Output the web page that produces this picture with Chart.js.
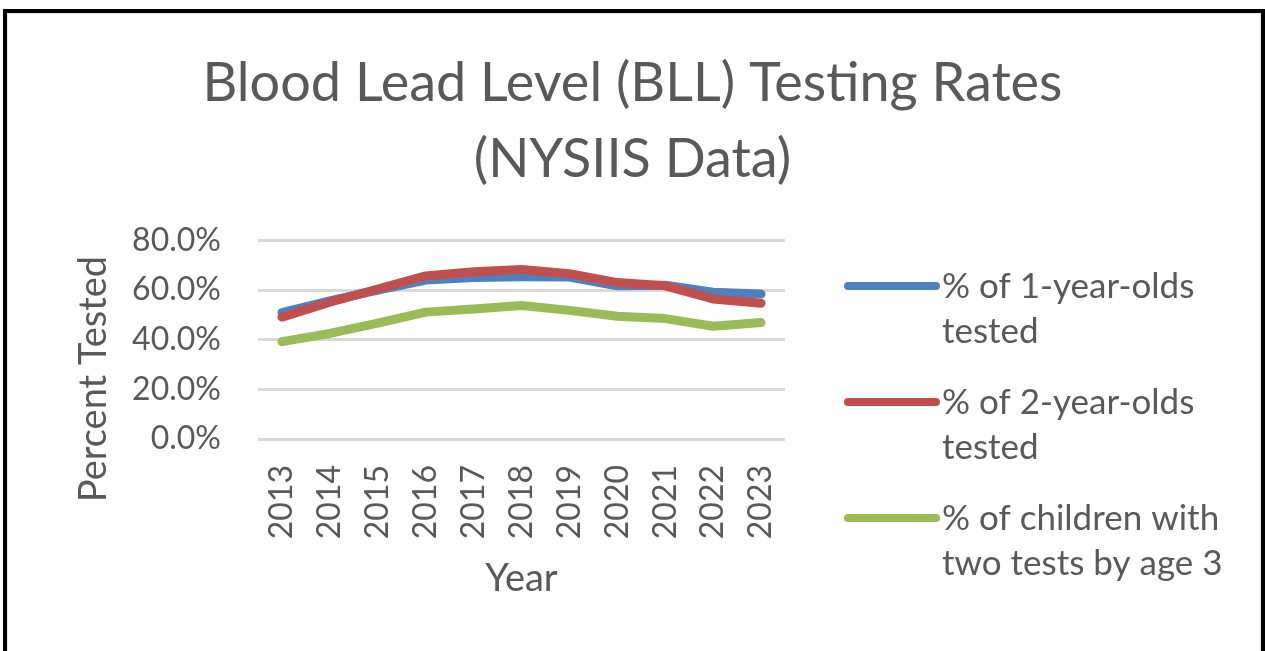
<!DOCTYPE html>
<html>
<head>
<meta charset="utf-8">
<script src="https://cdn.jsdelivr.net/npm/chart.js@4"></script>
<style>
  html, body { margin: 0; padding: 0; background: #fff; overflow: hidden; }
  #wrap { position: relative; width: 1265px; height: 651px; }
  #frame {
    position: absolute; left: 3px; top: 9px; width: 1262px; height: 700px;
    box-sizing: border-box; border: 4px solid #000; border-bottom: none;
    box-shadow: inset 1px 1px 0 #e4e4e4, inset -1px 0 0 #e4e4e4;
    pointer-events: none;
  }
  canvas { position: absolute; left: 0; top: 0; }
</style>
</head>
<body>
<div id="wrap">
  <canvas id="lead" width="1265" height="651"></canvas>
  <div id="frame"></div>
</div>
<script>
// data (percent)
var years = ['2013','2014','2015','2016','2017','2018','2019','2020','2021','2022','2023'];
var oneYear = [50.9, 55.6, 60.0, 64.0, 65.0, 65.3, 65.2, 61.7, 61.9, 59.1, 58.4];
var twoYear = [49.1, 55.1, 60.4, 65.7, 67.4, 68.3, 66.6, 63.0, 61.7, 56.4, 54.7];
var twoTests = [39.2, 42.5, 46.7, 51.1, 52.4, 53.8, 51.8, 49.4, 48.5, 45.4, 46.9];
var legendLines = [
  ['% of 1-year-olds', 'tested'],
  ['% of 2-year-olds', 'tested'],
  ['% of children with', 'two tests by age 3']
];
var yTicks = [0, 20, 40, 60, 80];

var grey = '#595959';
var fontName = 'Lato';

// legend + y title drawn by hand so the labels can wrap like the original
var sideBits = {
  id: 'sideBits',
  afterDraw: function(chart) {
    var c = chart.ctx;
    c.save();
    c.fillStyle = grey;
    c.font = '38px ' + fontName;
    c.textAlign = 'center';
    c.textBaseline = 'middle';
    c.translate(94, 379);
    c.rotate(-Math.PI / 2);
    c.fillText('Percent Tested', 0, 0);
    c.restore();

    c.save();
    chart.data.datasets.forEach(function(ds, i) {
      var ly = 286 + i * 116;
      c.strokeStyle = ds.borderColor;
      c.lineWidth = 8;
      c.lineCap = 'round';
      c.beginPath();
      c.moveTo(848, ly);
      c.lineTo(936, ly);
      c.stroke();
      c.fillStyle = grey;
      c.font = '35px ' + fontName;
      c.textAlign = 'left';
      c.textBaseline = 'alphabetic';
      legendLines[i].forEach(function(t, j) {
        c.fillText(t, 942, ly + 12 + j * 45);
      });
    });
    c.restore();
  }
};

var ctx = document.getElementById('lead').getContext('2d');
var chart = new Chart(ctx, {
  type: 'line',
  data: {
    labels: years,
    datasets: [
      { label: legendLines[0].join(' '), data: oneYear, borderColor: '#4f81bd', order: 2 },
      { label: legendLines[1].join(' '), data: twoYear, borderColor: '#c0504d', order: 1 },
      { label: legendLines[2].join(' '), data: twoTests, borderColor: '#9bbb59', order: 0 }
    ]
  },
  options: {
    responsive: false,
    animation: false,
    layout: { padding: 0 },
    elements: {
      line: { borderWidth: 9, tension: 0, borderCapStyle: 'round', borderJoinStyle: 'round', fill: false },
      point: { radius: 0, hoverRadius: 0 }
    },
    plugins: {
      legend: { display: false },
      tooltip: { enabled: false },
      title: {
        display: true,
        text: ['Blood Lead Level (BLL) Testing Rates', '(NYSIIS Data)'],
        color: grey,
        font: { family: fontName, size: 54, weight: 'normal', lineHeight: 1.42 },
        padding: { top: 45, bottom: 42 }
      }
    },
    scales: {
      x: {
        offset: true,
        grid: { display: false, drawTicks: false },
        border: { display: false },
        ticks: {
          color: grey, font: { family: fontName, size: 32 },
          minRotation: 90, maxRotation: 90, padding: 26, autoSkip: false
        },
        title: {
          display: true, text: 'Year', color: grey,
          font: { family: fontName, size: 38 }, padding: { top: 49, bottom: 49 }
        },
        afterFit: function(s) { s.height = 212; }
      },
      y: {
        min: 0, max: 80,
        grid: { color: '#d9d9d9', lineWidth: 3, drawTicks: false },
        border: { display: false },
        ticks: {
          stepSize: 20, color: grey, padding: 37,
          font: { family: fontName, size: 32 },
          callback: function(v) { return yTicks.indexOf(v) >= 0 ? v.toFixed(1) + '%' : ''; }
        },
        afterFit: function(s) { s.width = 258; }
      },
      side: {
        position: 'right', min: 0, max: 1,
        grid: { display: false, drawTicks: false },
        border: { display: false },
        ticks: { display: false },
        afterFit: function(s) { s.width = 480; }
      }
    }
  },
  plugins: [sideBits]
});
</script>
</body>
</html>
